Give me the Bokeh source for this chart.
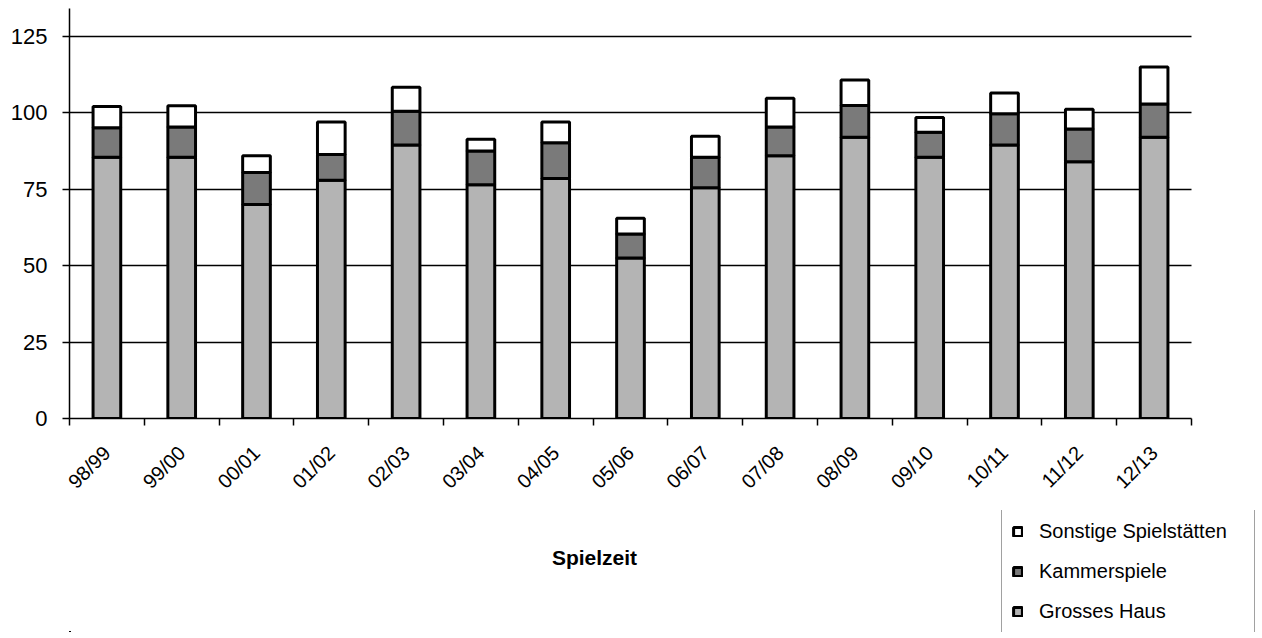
import math
from bokeh.plotting import figure
from bokeh.layouts import column
from bokeh.models import ColumnDataSource, FixedTicker, Range1d, Legend, LegendItem, Label
from bokeh.embed import file_html
from bokeh.resources import INLINE

seasons = ["98/99", "99/00", "00/01", "01/02", "02/03", "03/04", "04/05", "05/06",
           "06/07", "07/08", "08/09", "09/10", "10/11", "11/12", "12/13"]
grosses_haus = [85.5, 85.5, 70.0, 78.0, 89.5, 76.5, 78.5, 52.5, 75.5, 86.0, 92.0, 85.5, 89.5, 84.0, 92.0]
kammerspiele = [9.6, 9.9, 10.5, 8.4, 11.0, 11.0, 11.7, 7.9, 10.0, 9.4, 10.4, 8.2, 10.2, 10.7, 10.9]
sonstige = [7.0, 6.9, 5.5, 10.6, 7.9, 3.9, 6.8, 5.1, 6.9, 9.4, 8.4, 4.8, 6.8, 6.5, 12.1]
series_names = ["Grosses Haus", "Kammerspiele", "Sonstige Spielstätten"]
series_colors = ["#b4b4b4", "#7a7a7a", "#ffffff"]
y_ticks = [0, 25, 50, 75, 100, 125]

FONT = "Liberation Sans"
n = len(seasons)
x_pos = [i + 0.5 for i in range(n)]
stack_cols = ["grosses", "kammer", "sonstige"]

src = ColumnDataSource(dict(x=x_pos, grosses=grosses_haus, kammer=kammerspiele, sonstige=sonstige))

# ---------------- main chart ----------------
W = 1256
LEFT = 69
TOP = 8
FRAME_H = 410
BOTTOM = 92
FRAME_W = W - LEFT                # frame reaches the right edge (legend sits below it)
CAT_PX = 74.8                     # pixel width of one category
x_end = FRAME_W / CAT_PX
y_end = FRAME_H / 3.056

p = figure(width=W, height=TOP + FRAME_H + BOTTOM, output_backend="svg", toolbar_location=None,
           x_range=Range1d(0, x_end), y_range=Range1d(0, y_end),
           min_border_left=LEFT, min_border_right=0, min_border_top=TOP, min_border_bottom=BOTTOM)
p.outline_line_color = None
p.background_fill_color = "white"
p.border_fill_color = "white"

rs = p.vbar_stack(stack_cols, x="x", width=0.37, source=src,
                  fill_color=series_colors, line_color="black", line_width=3)

p.yaxis.ticker = FixedTicker(ticks=y_ticks, minor_ticks=[])
p.yaxis.major_tick_out = 7
p.yaxis.major_tick_in = 0
p.yaxis.major_tick_line_width = 1.5
p.yaxis.major_tick_line_color = "black"
p.yaxis.axis_line_width = 1.5
p.yaxis.axis_line_color = "black"
p.yaxis.major_label_standoff = 15
p.yaxis.major_label_text_font = FONT
p.yaxis.major_label_text_font_size = "22px"
p.yaxis.major_label_text_color = "black"

p.ygrid.ticker = FixedTicker(ticks=y_ticks)
p.ygrid.grid_line_color = "black"
p.ygrid.grid_line_width = 1.3
try:
    p.ygrid.cross_bounds = (0, n)
except Exception:
    pass
p.xgrid.visible = False

p.xaxis.ticker = FixedTicker(ticks=x_pos, minor_ticks=list(range(n + 1)))
p.xaxis.bounds = (0, n)
p.xaxis.major_label_overrides = {x: s for x, s in zip(x_pos, seasons)}
p.xaxis.major_tick_out = 0
p.xaxis.major_tick_in = 0
p.xaxis.minor_tick_out = 7
p.xaxis.minor_tick_in = 0
p.xaxis.minor_tick_line_color = "black"
p.xaxis.minor_tick_line_width = 1.5
p.xaxis.axis_line_color = "black"
p.xaxis.axis_line_width = 1.5
p.xaxis.major_label_orientation = math.pi / 4
p.xaxis.major_label_standoff = 24
p.xaxis.major_label_text_font = FONT
p.xaxis.major_label_text_font_size = "20px"
p.xaxis.major_label_text_color = "black"

# ---------------- lower strip: axis title + legend ----------------
H2 = 122
X0 = 10000  # the strip's data window lies far from the bar data,
Y0 = 1000   # so the key bars stay off-canvas
p2 = figure(width=W, height=H2, output_backend="svg", toolbar_location=None,
            x_range=Range1d(X0 + LEFT, X0 + W), y_range=Range1d(Y0, Y0 + H2),
            x_axis_location=None, y_axis_location=None,
            min_border_left=LEFT, min_border_right=0, min_border_top=0, min_border_bottom=0)
p2.outline_line_color = None
p2.grid.visible = False
p2.background_fill_color = "white"
p2.border_fill_color = "white"

p2.add_layout(Label(x=X0 + 594, y=Y0 + 75, text="Spielzeit", text_align="center",
                    text_baseline="middle", text_font=FONT, text_font_style="bold",
                    text_font_size="21px", text_color="black"))

# the same stacked series in the strip (outside its visible window): used only as legend keys
keys = p2.vbar_stack(stack_cols, x="x", width=0.37, source=src,
                     fill_color=series_colors, line_color="black", line_width=3)

legend = Legend(items=[LegendItem(label=series_names[i], renderers=[keys[i]]) for i in (2, 1, 0)],
                location=(932, -2))
legend.label_text_font = FONT
legend.label_text_font_size = "20px"
legend.label_text_color = "black"
legend.glyph_width = 11
legend.glyph_height = 11
legend.label_height = 22
legend.spacing = 17
legend.padding = 10
legend.margin = 0
legend.label_standoff = 16
legend.label_width = 205
legend.border_line_color = "#444444"
legend.border_line_width = 1
legend.background_fill_color = "white"
legend.background_fill_alpha = 1
p2.add_layout(legend)

layout = column(p, p2, spacing=0)
open("out.html", "w").write(file_html(layout, INLINE))
